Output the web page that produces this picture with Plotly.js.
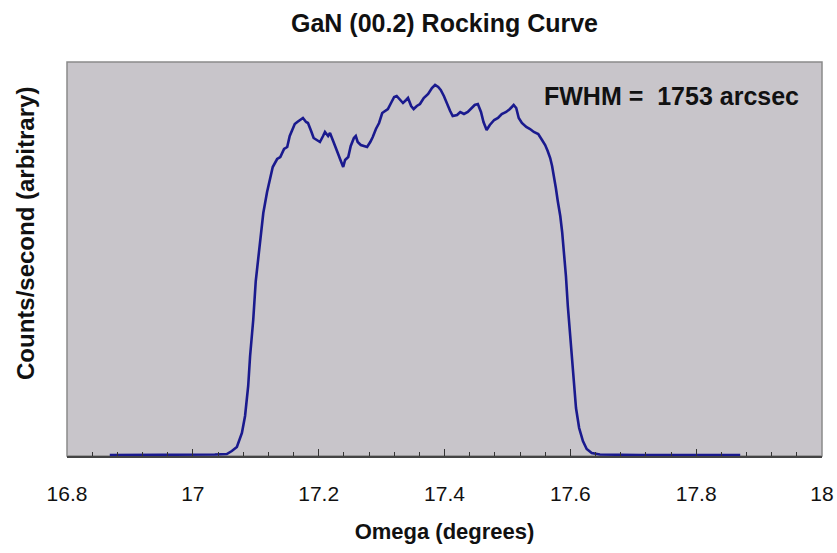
<!DOCTYPE html>
<html>
<head>
<meta charset="utf-8">
<script src="https://cdn.plot.ly/plotly-3.0.1.min.js"></script>
<style>
html,body{margin:0;padding:0;background:#fff;}
#chart{width:837px;height:553px;}
</style>
</head>
<body>
<div id="chart"></div>
<script>
// Omega (degrees)
const omega = [
16.868,17.000,17.035,17.054,17.062,17.070,17.078,17.083,17.088,17.091,
17.096,17.100,17.105,17.112,17.118,17.123,17.127,17.134,17.139,17.145,
17.150,17.154,17.158,17.162,17.166,17.170,17.175,17.180,17.183,17.188,
17.192,17.197,17.202,17.207,17.210,17.215,17.218,17.223,17.228,17.231,
17.234,17.239,17.242,17.247,17.251,17.256,17.259,17.262,17.267,17.272,
17.277,17.282,17.286,17.291,17.296,17.301,17.305,17.310,17.315,17.320,
17.324,17.329,17.334,17.339,17.342,17.347,17.351,17.356,17.361,17.367,
17.374,17.380,17.385,17.390,17.394,17.399,17.404,17.409,17.413,17.420,
17.425,17.431,17.437,17.444,17.448,17.453,17.458,17.462,17.467,17.472,
17.479,17.485,17.491,17.498,17.504,17.510,17.514,17.518,17.523,17.530,
17.536,17.542,17.549,17.555,17.560,17.564,17.568,17.571,17.574,17.577,
17.580,17.584,17.587,17.590,17.593,17.596,17.599,17.603,17.606,17.609,
17.614,17.620,17.626,17.634,17.647,17.711,17.870
];
// Counts/second (arbitrary units)
const counts = [
1,1,1.5,2,5,9,23,40,70,100,
136,175,205,243,264,280,289,297,299,307,
309,320,326,332,334,336,338,334,333,325,
318,316,314,320,324,320,323,315,308,302,
297,289,296,299,310,318,320,314,311,310,
309,314,319,327,333,343,345,347,353,359,
360,357,353,356,358,350,347,350,352,358,
362,368,371,369,366,360,352,345,340,341,
344,342,344,348,351,352,344,334,326,331,
336,338,342,344,347,351,348,338,333,329,
327,324,322,316,311,305,298,290,280,268,
255,240,224,204,180,150,125,95,68,48,
28,15,7,3,1.5,1,1
];
// x axis: major ticks every 0.2 from 16.8 to 18, minor every 0.04
const xTickStart = 16.8;
const xTickStep = 0.2;
const xMinorStep = 0.04;

const trace = {
  x: omega, y: counts, type: 'scatter', mode: 'lines',
  line: {color: '#1a1a8e', width: 2.6},
  hoverinfo: 'x+y'
};

const layout = {
  width: 837, height: 553,
  margin: {l: 67, r: 15, t: 62, b: 97},
  paper_bgcolor: '#ffffff',
  plot_bgcolor: '#c8c5ca',
  showlegend: false,
  font: {family: 'Liberation Sans, Arial, sans-serif', color: '#111'},
  title: {
    text: '<b>GaN (00.2) Rocking Curve</b>',
    font: {size: 25, color: '#111'},
    x: 0.5, xanchor: 'center', xref: 'paper',
    y: 1 - 23/553, yanchor: 'middle', yref: 'container'
  },
  xaxis: {
    range: [16.8, 18], tickmode: 'linear', tick0: xTickStart, dtick: xTickStep,
    ticks: 'inside', ticklen: 7, tickcolor: '#333', tickwidth: 1,
    showline: true, linecolor: '#444', linewidth: 1.5,
    showgrid: false, zeroline: false,
    tickfont: {size: 21, color: '#111'},
    ticklabelstandoff: 18,
    minor: {tickmode: 'linear', tick0: xTickStart, dtick: xMinorStep, ticks: 'inside', ticklen: 4, tickcolor: '#333', tickwidth: 1, showgrid: false},
    title: {text: '<b>Omega (degrees)</b>', font: {size: 22, color: '#111'}, standoff: 20}
  },
  yaxis: {
    range: [0, 394], showticklabels: false, ticks: '', showgrid: false, zeroline: false,
    showline: false
  },
  shapes: [{
    type: 'rect', xref: 'paper', yref: 'paper', x0: 0, x1: 1, y0: 0, y1: 1,
    line: {color: '#8a8a8a', width: 1.5}, layer: 'below'
  }],
  annotations: [
    {
      text: '<b>Counts/second (arbitrary)</b>', xref: 'paper', yref: 'paper',
      x: -42/755, y: (456-234)/394, xanchor: 'center', yanchor: 'middle',
      textangle: -90, showarrow: false, font: {size: 24, color: '#111'}
    },
    {
      text: '<b>FWHM =\u00A0 1753 arcsec</b>', xref: 'paper', yref: 'paper',
      x: (542-67)/755, y: (456-96)/394, xanchor: 'left', yanchor: 'middle',
      showarrow: false, font: {size: 25, color: '#111'}
    }
  ]
};

Plotly.newPlot('chart', [trace], layout, {displayModeBar: false, staticPlot: true});
</script>
</body>
</html>
